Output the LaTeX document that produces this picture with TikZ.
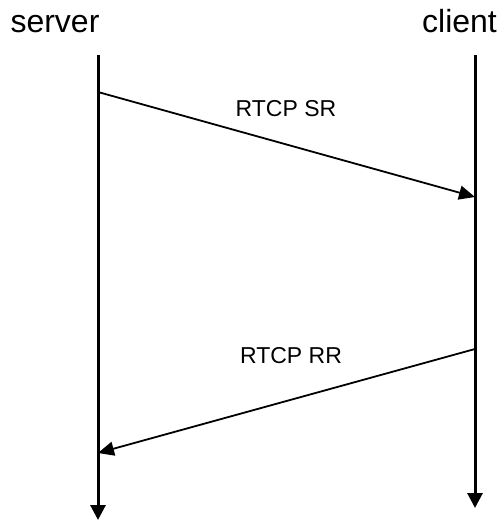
\documentclass[tikz,border=0pt]{standalone}
\usepackage{fontspec}
\setmainfont{Liberation Sans}
\usetikzlibrary{arrows.meta}
\begin{document}
\begin{tikzpicture}[x=1bp,y=-1bp,
  lifeline/.style={line width=3bp,-{Triangle[length=15bp,width=15bp]}},
  msg/.style={line width=1.8bp,-{Triangle[length=16bp,width=14bp]}},
  title/.style={font=\fontsize{32bp}{38bp}\selectfont,inner sep=0pt,anchor=base},
  msglabel/.style={font=\fontsize{23bp}{27bp}\selectfont,inner sep=0pt,anchor=base}]
\useasboundingbox (0,0) rectangle (501,520);
\node[title] (server) at (55,33) {server};
\node[title] (client) at (459.5,33) {client};
\coordinate (stop) at (98,55);
\coordinate (sbot) at (98,520);
\coordinate (ctop) at (475,55);
\coordinate (cbot) at (475,508);
\draw[lifeline] (stop) -- (sbot);
\draw[lifeline] (ctop) -- (cbot);
\coordinate (sr1) at (98,92);
\coordinate (sr2) at (475,197);
\coordinate (rr1) at (475,349);
\coordinate (rr2) at (98,453);
\draw[msg] (sr1) -- (sr2);
\draw[msg] (rr1) -- (rr2);
\node[msglabel] (srl) at (286,117) {RTCP SR};
\node[msglabel] (rrl) at (291,363) {RTCP RR};
\end{tikzpicture}
\end{document}
